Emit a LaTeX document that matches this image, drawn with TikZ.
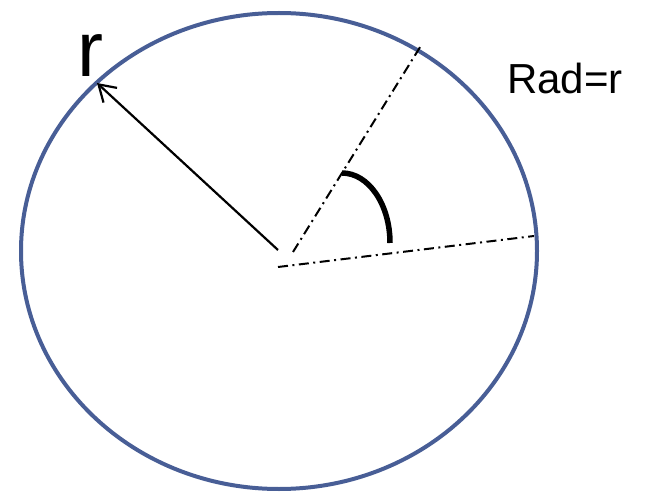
\documentclass[tikz,border=0pt]{standalone}
\usepackage{fontspec}
\setmainfont{Liberation Sans}
\usetikzlibrary{arrows.meta}
\definecolor{rimblue}{RGB}{72,94,150}

\begin{document}
\begin{tikzpicture}[x=1pt, y=-1pt,
  dashdot/.style={line width=2pt, dash pattern=on 10pt off 4.5pt on 2pt off 4.5pt}]
\useasboundingbox (0,0) rectangle (654,492);

% Circle outline
\draw[rimblue, line width=4pt] (279,251) ellipse [x radius=258pt, y radius=238pt];

% Centre and points on the rim
\coordinate (centre) at (278,250);
\coordinate (rimtip) at (97,83);
\coordinate (lowfoot) at (278,267);
\coordinate (lowrim) at (534,236);
\coordinate (upfoot) at (293,252);
\coordinate (uprim) at (422,44);

% Radius arrow
\draw[line width=2.2pt, -{Straight Barb[length=16pt, width=20pt]}] (centre) -- (rimtip);

% Dash-dot sides of the angle
\draw[dashdot] (lowfoot) -- (lowrim);
\draw[dashdot] (upfoot) -- (uprim);

% Angle mark
\draw[line width=5.5pt] (342,173) arc[start angle=90, end angle=0, x radius=48pt, y radius=70pt];

% Labels
\node[anchor=base west, inner sep=0pt] (rlabel) at (77,77) {\fontsize{78}{80}\selectfont r};
\node[anchor=base west, inner sep=0pt] (radlabel) at (507,94) {\fontsize{42}{46}\selectfont Rad=r};
\end{tikzpicture}
\end{document}
